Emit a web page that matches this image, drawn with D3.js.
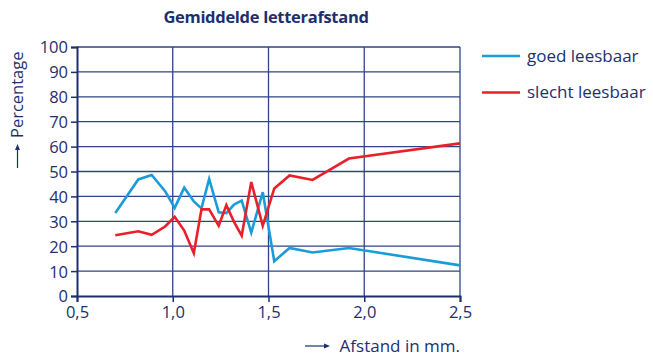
<!DOCTYPE html>
<html>
<head>
<meta charset="utf-8">
<script src="https://cdn.jsdelivr.net/npm/d3@7"></script>
<style>
  html, body { margin: 0; padding: 0; background: #ffffff; }
  svg { display: block; }
  text { font-family: "Open Sans", "Noto Sans", sans-serif; fill: #1d2f6e; }
</style>
</head>
<body>
<svg id="chart" width="653" height="360"></svg>
<script>
// Average letter spacing (mm) against the share of readers
const afstand = [0.7, 0.82, 0.89, 0.96, 1.01, 1.06, 1.11, 1.15, 1.19, 1.24, 1.28, 1.32, 1.36, 1.41, 1.47, 1.53, 1.61, 1.73, 1.92, 2.5];
const goedLeesbaar = [33.3, 46.8, 48.6, 42.1, 35.4, 43.5, 38.0, 35.2, 47.0, 33.6, 33.3, 36.7, 38.3, 25.5, 41.7, 14.0, 19.3, 17.5, 19.3, 12.3];
const slechtLeesbaar = [24.4, 26.0, 24.6, 27.9, 31.8, 26.3, 17.2, 34.8, 34.8, 28.2, 36.5, 29.8, 24.2, 45.8, 28.2, 43.2, 48.4, 46.6, 55.2, 61.3];
const xTicks = [0.5, 1.0, 1.5, 2.0, 2.5];
const yTicks = [0, 10, 20, 30, 40, 50, 60, 70, 80, 90, 100];
const seriesNames = ["goed leesbaar", "slecht leesbaar"];
const seriesColors = ["#1a9cd8", "#e8202a"];

const navy = "#1d2f6e";
const gridColor = "#2e4585";

const svg = d3.select("#chart");
const margin = { left: 77, right: 193, top: 47, bottom: 64 };
const width = 653 - margin.left - margin.right;
const height = 360 - margin.top - margin.bottom;

const x = d3.scaleLinear().domain([0.5, 2.5]).range([margin.left, margin.left + width]);
const y = d3.scaleLinear().domain([0, 100]).range([margin.top + height, margin.top]);

const fmt = d => d3.format(".1f")(d).replace(".", ",");

// Grid
const g = svg.append("g");
g.selectAll("line.h").data(yTicks.filter(t => t > 0)).join("line")
  .attr("x1", x(0.5)).attr("x2", x(2.5))
  .attr("y1", d => y(d)).attr("y2", d => y(d))
  .attr("stroke", gridColor).attr("stroke-width", 1.3);
g.selectAll("line.v").data(xTicks.filter(t => t > 0.5)).join("line")
  .attr("x1", d => x(d)).attr("x2", d => x(d))
  .attr("y1", y(0)).attr("y2", y(100))
  .attr("stroke", gridColor).attr("stroke-width", 1.3);

// Axes
const yAxis = d3.axisLeft(y).tickValues(yTicks).tickSize(6).tickPadding(3);
const xAxis = d3.axisBottom(x).tickValues(xTicks).tickSize(6).tickFormat(fmt).tickPadding(3);

const ya = svg.append("g").attr("transform", `translate(${margin.left},0)`).call(yAxis);
const xa = svg.append("g").attr("transform", `translate(0,${y(0)})`).call(xAxis);
[ya, xa].forEach(a => {
  a.select(".domain").attr("stroke", navy).attr("stroke-width", 2);
  a.selectAll(".tick line").attr("stroke", navy).attr("stroke-width", 1.5);
  a.selectAll(".tick text").attr("fill", navy).style("font-size", "16.5px")
    .style("font-family", "'Open Sans', 'Noto Sans', sans-serif");
});
ya.selectAll(".tick text").attr("dy", "0.36em");
xa.selectAll(".tick text").attr("dy", "0.78em");

// Lines
const line = d3.line().x((d, i) => x(afstand[i])).y(d => y(d));
[goedLeesbaar, slechtLeesbaar].forEach((vals, k) => {
  svg.append("path").datum(vals)
    .attr("fill", "none")
    .attr("stroke", seriesColors[k])
    .attr("stroke-width", 2.6)
    .attr("stroke-linejoin", "miter")
    .attr("d", line);
});

// Title
svg.append("text").attr("x", 266).attr("y", 23).attr("text-anchor", "middle")
  .style("font-size", "16.5px").style("font-weight", "700").style("letter-spacing", "-0.3px")
  .text("Gemiddelde letterafstand");

// Y label with arrow
const yl = svg.append("g").attr("transform", "translate(23,168) rotate(-90)");
yl.append("line").attr("x1", 0).attr("x2", 20).attr("y1", -5.5).attr("y2", -5.5)
  .attr("stroke", navy).attr("stroke-width", 1.2);
yl.append("path").attr("d", "M24,-5.5 L18,-8 L18,-3 Z").attr("fill", navy);
yl.append("text").attr("x", 30).attr("y", 0).style("font-size", "16.5px").text("Percentage");

// X label with arrow
svg.append("line").attr("x1", 305).attr("x2", 326).attr("y1", 346).attr("y2", 346)
  .attr("stroke", navy).attr("stroke-width", 1.2);
svg.append("path").attr("d", "M330,346 L324,343.5 L324,348.5 Z").attr("fill", navy);
svg.append("text").attr("x", 460).attr("y", 351.5).attr("text-anchor", "end")
  .style("font-size", "17px").text("Afstand in mm.");

// Legend
const lg = svg.append("g");
seriesNames.forEach((name, k) => {
  const ly = 56 + k * 36.5;
  lg.append("line").attr("x1", 482).attr("x2", 520).attr("y1", ly).attr("y2", ly)
    .attr("stroke", seriesColors[k]).attr("stroke-width", 2.6);
  lg.append("text").attr("x", 527).attr("y", ly + 5.5).style("font-size", "17px").text(name);
});
</script>
</body>
</html>
